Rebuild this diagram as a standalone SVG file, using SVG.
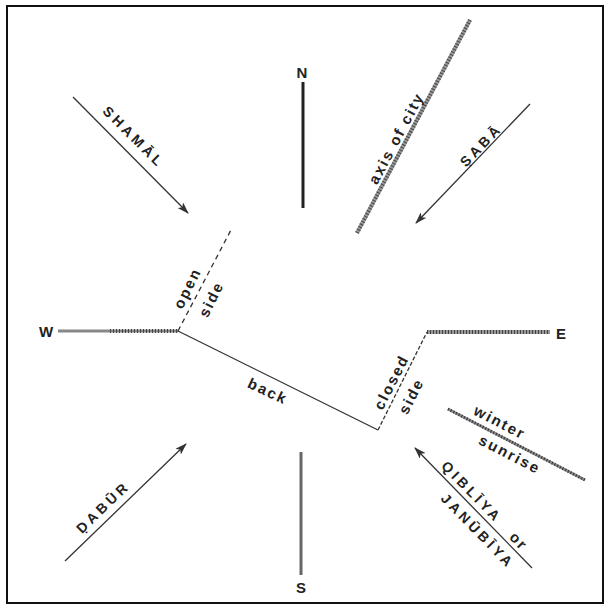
<svg xmlns="http://www.w3.org/2000/svg" width="611" height="608" viewBox="0 0 611 608">
<style>
text{font-family:"Liberation Sans",Arial,sans-serif;font-weight:bold;fill:#222;text-anchor:middle;dominant-baseline:central}
.cap{font-size:14px;letter-spacing:3.5px}
.low{font-size:15px;letter-spacing:2px}
.card{font-size:15px}
.arrow{stroke:#333;stroke-width:1.3;fill:none}
.hatch{stroke:#999;stroke-width:4;fill:none}
.hatchov{stroke:#444;stroke-width:4;stroke-dasharray:1 2;fill:none}
.thin{stroke:#333;stroke-width:1.3;fill:none}
</style>
<defs>
<marker id="ah" viewBox="0 0 12 8" refX="11" refY="4" markerWidth="12" markerHeight="8" markerUnits="userSpaceOnUse" orient="auto">
<path d="M0,0 L12,4 L0,8 L3,4 Z" fill="#333"/>
</marker>
</defs>
<rect x="7" y="6" width="596" height="597" fill="#fff" stroke="#111" stroke-width="2"/>
<g id="connectors">
<line class="arrow" x1="73" y1="97" x2="188" y2="213" marker-end="url(#ah)"/>
<line class="arrow" x1="530" y1="104" x2="416" y2="223" marker-end="url(#ah)"/>
<line class="arrow" x1="65" y1="561" x2="186" y2="444" marker-end="url(#ah)"/>
<line class="arrow" x1="532" y1="568" x2="415" y2="448" marker-end="url(#ah)"/>
</g>
<g id="north">
<line x1="303" y1="82" x2="303" y2="208" stroke="#222" stroke-width="3"/>
<text class="card" x="302" y="72">N</text>
</g>
<g id="south">
<line x1="301" y1="452" x2="301" y2="575" stroke="#666" stroke-width="3"/>
<text class="card" x="301" y="587">S</text>
</g>
<g id="west">
<line x1="58" y1="331" x2="178" y2="331" stroke="#888" stroke-width="3"/>
<line x1="110" y1="331" x2="178" y2="331" class="hatchov" stroke-width="3"/>
<text class="card" x="46" y="331">W</text>
</g>
<g id="east">
<line x1="427" y1="332" x2="550" y2="332" class="hatch"/>
<line x1="427" y1="332" x2="550" y2="332" class="hatchov"/>
<text class="card" x="561" y="333">E</text>
</g>
<g id="axis-of-city">
<line x1="470" y1="20" x2="357" y2="233" class="hatch"/>
<line x1="470" y1="20" x2="357" y2="233" class="hatchov"/>
<text class="low" transform="translate(396,138) rotate(-62)">axis of city</text>
</g>
<g id="open-side">
<line x1="178" y1="331" x2="232" y2="228" class="thin" stroke-dasharray="5 4"/>
<text class="low" transform="translate(187,288) rotate(-63.7)">open</text>
<text class="low" transform="translate(211,299) rotate(-63.7)">side</text>
</g>
<g id="back">
<line x1="178" y1="331" x2="378" y2="430" class="thin"/>
<text class="low" transform="translate(268,391) rotate(25)">back</text>
</g>
<g id="closed-side">
<line x1="378" y1="430" x2="427" y2="332" class="thin" stroke-dasharray="4 2"/>
<text class="low" transform="translate(391,382) rotate(-63)">closed</text>
<text class="low" transform="translate(411,396) rotate(-63)">side</text>
</g>
<g id="winter-sunrise">
<line x1="448" y1="409" x2="585" y2="480" stroke="#888" stroke-width="3"/>
<line x1="448" y1="409" x2="585" y2="480" stroke="#333" stroke-width="3" stroke-dasharray="1 2"/>
<text class="low" transform="translate(500,422) rotate(27.4)">winter</text>
<text class="low" transform="translate(510,454) rotate(27.4)">sunrise</text>
</g>
<g id="shamal">
<text class="cap" transform="translate(134,137) rotate(45)">SHAMĀL</text>
</g>
<g id="saba">
<text class="cap" transform="translate(481,145) rotate(-46)">ṢABĀ</text>
</g>
<g id="dabur">
<text class="cap" transform="translate(103,507) rotate(-44)">ḌABŪR</text>
</g>
<g id="qibliya">
<text class="cap" transform="translate(472,492) rotate(45.7)">QIBLĪYA</text>
<text class="low" transform="translate(519,541) rotate(45.7)">or</text>
<text class="cap" transform="translate(478,531) rotate(45.7)">JANŪBĪYA</text>
</g>
</svg>
